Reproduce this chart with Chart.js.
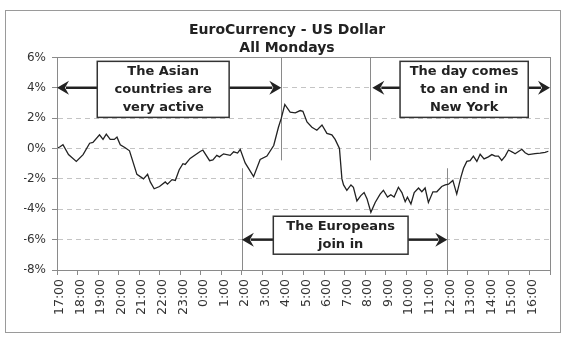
<!DOCTYPE html>
<html>
<head>
<meta charset="utf-8">
<script src="https://cdn.jsdelivr.net/npm/chart.js@4/dist/chart.umd.min.js"></script>
<style>
  html, body { margin: 0; padding: 0; background: #fff; }
  canvas { display: block; }
</style>
</head>
<body>
<canvas id="fxChart" width="575" height="342"></canvas>
<script>
// Tick labels (one per hour, starting at 17:00)
const tickLabels = ['17:00', '18:00', '19:00', '20:00', '21:00', '22:00', '23:00', '0:00',
    '1:00', '2:00', '3:00', '4:00', '5:00', '6:00', '7:00', '8:00', '9:00', '10:00',
    '11:00', '12:00', '13:00', '14:00', '15:00', '16:00'];

// Hours since 17:00 and change in %
const hours = [0.05, 0.13, 0.29, 0.56, 0.94, 1.27, 1.59, 1.75, 2.07, 2.24, 2.40, 2.59, 2.79, 2.92,
    3.08, 3.32, 3.53, 3.89, 4.21, 4.41, 4.54, 4.73, 4.99, 5.27, 5.38, 5.60, 5.76, 5.95, 6.13,
    6.24, 6.48, 6.97, 7.10, 7.43, 7.59, 7.78, 7.91, 8.11, 8.43, 8.60, 8.79, 8.92, 9.16, 9.57,
    9.89, 10.22, 10.55, 10.78, 10.92, 11.09, 11.35, 11.60, 11.84, 11.97, 12.17, 12.41, 12.65,
    12.90, 13.14, 13.38, 13.54, 13.75, 13.87, 13.95, 14.11, 14.31, 14.43, 14.60, 14.79, 14.95,
    15.09, 15.28, 15.49, 15.73, 15.89, 16.09, 16.25, 16.41, 16.62, 16.79, 16.95, 17.06, 17.23,
    17.39, 17.60, 17.76, 17.92, 18.08, 18.30, 18.49, 18.73, 18.90, 19.06, 19.27, 19.46, 19.66,
    19.79, 19.95, 20.11, 20.27, 20.44, 20.60, 20.79, 21.00, 21.17, 21.33, 21.49, 21.65, 21.82,
    21.98, 22.19, 22.30, 22.63, 22.79, 22.95, 23.27, 23.52, 23.76, 23.92];
const values = [0.05, 0.1, 0.25, -0.4, -0.85, -0.4, 0.35, 0.4, 0.9, 0.6, 0.95, 0.6, 0.6, 0.75,
    0.25, 0.05, -0.15, -1.7, -2.0, -1.7, -2.2, -2.65, -2.5, -2.2, -2.35, -2.05, -2.1, -1.4, -1.0,
    -1.05, -0.65, -0.2, -0.1, -0.8, -0.75, -0.45, -0.55, -0.35, -0.45, -0.22, -0.3, -0.05, -0.95, -1.85,
    -0.72, -0.5, 0.2, 1.4, 2.0, 2.9, 2.4, 2.35, 2.5, 2.45, 1.75, 1.4, 1.2,
    1.55, 1.0, 0.9, 0.6, 0.0, -2.0, -2.4, -2.75, -2.4, -2.55, -3.45, -3.1, -2.9,
    -3.3, -4.2, -3.55, -3.0, -2.75, -3.2, -3.05, -3.2, -2.55, -2.9, -3.5, -3.2, -3.65,
    -2.9, -2.6, -2.85, -2.6, -3.55, -2.85, -2.85, -2.5, -2.4, -2.35, -2.1, -3.0, -1.9,
    -1.3, -0.85, -0.8, -0.5, -0.85, -0.38, -0.68, -0.55, -0.4, -0.5, -0.5, -0.78, -0.5,
    -0.1, -0.25, -0.35, -0.05, -0.28, -0.4, -0.33, -0.3, -0.25, -0.18];

const noteTexts = [
    ['The Asian', 'countries are', 'very active'],
    ['The day comes', 'to an end in', 'New York'],
    ['The Europeans', 'join in']
];

const FONT = 'DejaVu Sans, Verdana, sans-serif';
const INK = '#222';

// annotation layout, in data units (hours, %)
const notes = [
    { text: noteTexts[0], x0: 1.96, x1: 8.38, y0: 5.74, y1: 2.05, ay: 4, left: 0, right: 10.92 },
    { text: noteTexts[1], x0: 16.7, x1: 22.94, y0: 5.74, y1: 2.05, ay: 4, left: 15.35, right: 24 },
    { text: noteTexts[2], x0: 10.53, x1: 17.09, y0: -4.46, y1: -6.96, ay: -6, left: 9, right: 19 }
];
const markers = [
    { x: 9, from: -1.3, to: -8 },
    { x: 10.92, from: 6, to: -0.78 },
    { x: 15.25, from: 6, to: -0.78 },
    { x: 19, from: -1.3, to: -8 }
];

function arrow(ctx, xFrom, xTo, y) {
    const dir = xTo > xFrom ? 1 : -1;
    const head = 12;
    ctx.beginPath();
    ctx.moveTo(xFrom, y);
    ctx.lineTo(xTo - dir * (head - 3), y);
    ctx.lineWidth = 2.5;
    ctx.strokeStyle = INK;
    ctx.stroke();
    ctx.beginPath();
    ctx.moveTo(xTo, y);
    ctx.lineTo(xTo - dir * head, y - 7);
    ctx.lineTo(xTo - dir * (head - 4), y);
    ctx.lineTo(xTo - dir * head, y + 7);
    ctx.closePath();
    ctx.fillStyle = INK;
    ctx.fill();
}

const decor = {
    id: 'decor',
    beforeDraw(chart) {
        const ctx = chart.ctx;
        ctx.save();
        ctx.fillStyle = '#fff';
        ctx.fillRect(0, 0, chart.width, chart.height);
        ctx.restore();
    },
    beforeDatasetsDraw(chart) {
        const { ctx, scales: { x, y } } = chart;
        ctx.save();
        ctx.strokeStyle = '#8a8a8a';
        ctx.lineWidth = 1;
        markers.forEach(m => {
            const px = Math.round(x.getPixelForValue(m.x)) + 0.5;
            ctx.beginPath();
            ctx.moveTo(px, y.getPixelForValue(m.from));
            ctx.lineTo(px, y.getPixelForValue(m.to));
            ctx.stroke();
        });
        ctx.restore();
    },
    afterDraw(chart) {
        const { ctx, chartArea: a, scales: { x, y } } = chart;
        ctx.save();
        // plot frame
        ctx.strokeStyle = '#8a8a8a';
        ctx.lineWidth = 1;
        ctx.strokeRect(Math.round(a.left) + 0.5, Math.round(a.top) + 0.5,
            Math.round(a.right - a.left), Math.round(a.bottom - a.top));
        // outer frame
        ctx.strokeStyle = '#9a9a9a';
        ctx.strokeRect(5.5, 10.5, 555, 322);

        notes.forEach(n => {
            const bx0 = x.getPixelForValue(n.x0), bx1 = x.getPixelForValue(n.x1);
            const by0 = y.getPixelForValue(n.y0), by1 = y.getPixelForValue(n.y1);
            const ay = y.getPixelForValue(n.ay);
            arrow(ctx, bx0, x.getPixelForValue(n.left), ay);
            arrow(ctx, bx1, x.getPixelForValue(n.right), ay);
            ctx.fillStyle = '#fff';
            ctx.fillRect(bx0, by0, bx1 - bx0, by1 - by0);
            ctx.strokeStyle = '#333';
            ctx.lineWidth = 1.5;
            ctx.strokeRect(bx0, by0, bx1 - bx0, by1 - by0);
            ctx.fillStyle = INK;
            ctx.font = 'bold 13px ' + FONT;
            ctx.textAlign = 'center';
            ctx.textBaseline = 'middle';
            const cx = (bx0 + bx1) / 2, cy = (by0 + by1) / 2;
            const lh = 18;
            n.text.forEach((t, i) => {
                ctx.fillText(t, cx, cy + (i - (n.text.length - 1) / 2) * lh);
            });
        });
        ctx.restore();
    }
};

const ctx = document.getElementById('fxChart').getContext('2d');
new Chart(ctx, {
    type: 'line',
    data: {
        datasets: [{
            data: hours.map((h, i) => ({ x: h, y: values[i] })),
            borderColor: INK,
            borderWidth: 1.3,
            pointRadius: 0,
            tension: 0,
            fill: false
        }]
    },
    options: {
        responsive: false,
        animation: false,
        layout: { padding: { left: 24, right: 25, top: 12, bottom: 10 } },
        plugins: {
            legend: { display: false },
            tooltip: { enabled: false },
            title: {
                display: true,
                text: ['EuroCurrency - US Dollar', 'All Mondays'],
                color: INK,
                font: { family: FONT, size: 14, weight: 'bold', lineHeight: 1.3 },
                padding: { top: 9, bottom: 0 }
            }
        },
        scales: {
            x: {
                type: 'linear',
                min: 0,
                max: 24,
                afterFit: s => { s.height = 62; },
                grid: { drawOnChartArea: false, drawTicks: true, tickLength: 5, tickColor: '#8a8a8a' },
                border: { display: true, color: '#8a8a8a' },
                ticks: {
                    stepSize: 1,
                    autoSkip: false,
                    maxRotation: 90,
                    minRotation: 90,
                    padding: 4,
                    labelOffset: 3,
                    color: '#333',
                    font: { family: FONT, size: 12.5 },
                    callback: v => tickLabels[v] || ''
                }
            },
            y: {
                min: -8,
                max: 6,
                afterFit: s => { s.width = 33; },
                grid: { color: '#c4c4c4', tickLength: 5, tickColor: '#8a8a8a', tickBorderDash: [] },
                border: { display: true, color: '#8a8a8a', dash: [5, 4] },
                ticks: {
                    stepSize: 2,
                    padding: 6,
                    color: '#333',
                    font: { family: FONT, size: 12 },
                    callback: v => v + '%'
                }
            }
        }
    },
    plugins: [decor]
});
</script>
</body>
</html>
